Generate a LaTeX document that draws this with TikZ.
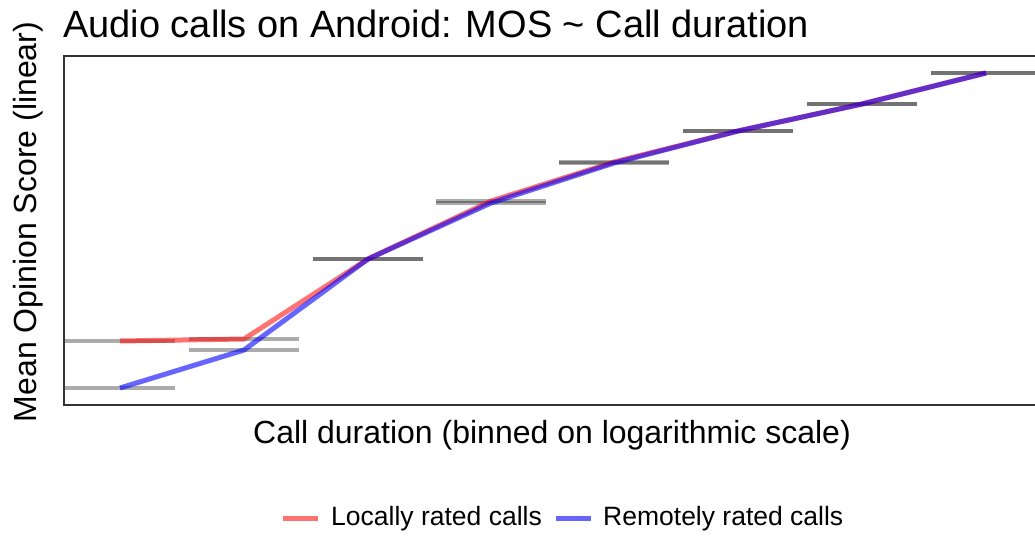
\documentclass[tikz,border=0pt]{standalone}
\usepackage{fontspec}
\setmainfont{Liberation Sans}
\begin{document}
\begin{tikzpicture}[x=1pt,y=-1pt,
  frame/.style={draw=black!80, line width=1.4pt},
  binbar/.style={draw=black, draw opacity=0.33, line width=4pt},
  localline/.style={draw=red, draw opacity=0.55, line width=5pt, line join=round},
  remoteline/.style={draw=blue, draw opacity=0.6, line width=5pt, line join=round},
  title/.style={font=\fontsize{38}{44}\selectfont, anchor=base west, inner sep=0pt},
  axislabel/.style={font=\fontsize{32}{38}\selectfont, inner sep=0pt},
  legendtext/.style={font=\fontsize{26.5}{31}\selectfont, anchor=west, inner sep=0pt}]
\useasboundingbox (0,0) rectangle (1035,536);
\begin{scope}
\clip (0,0) rectangle (1035,536);
% bin centres of the log-scaled call durations
\foreach \i/\x/\yl/\yr in {1/120/341/388, 2/244/339/350, 3/368/259/259, 4/491/201/203,
                           5/614/162/163, 6/738/131/131, 7/862/104/104, 8/986/73/73} {
  \coordinate (L\i) at (\x,\yl);
  \coordinate (R\i) at (\x,\yr);
  \draw[binbar] ([xshift=-55pt]L\i) -- ([xshift=55pt]L\i);
  \draw[binbar] ([xshift=-55pt]R\i) -- ([xshift=55pt]R\i);
}
% plot frame (open to the right)
\coordinate (tr) at (1045,56);
\coordinate (tl) at (64,56);
\coordinate (bl) at (64,405);
\coordinate (br) at (1045,405);
\draw[frame] (tr) -- (tl) -- (bl) -- (br);
% mean opinion score curves
\draw[localline] (L1) -- (L2) -- (L3) -- (L4) -- (L5) -- (L6) -- (L7) -- (L8);
\draw[remoteline] (R1) -- (R2) -- (R3) -- (R4) -- (R5) -- (R6) -- (R7) -- (R8);
\end{scope}
% titles and axis labels
\node[title] (ttl) at (63,37) {Audio calls on Android: MOS \textasciitilde{} Call duration};
\node[axislabel] (xl) at (552,435) {Call duration (binned on logarithmic scale)};
\node[axislabel, rotate=90] (yl) at (28,222) {Mean Opinion Score (linear)};
% legend
\coordinate (k1a) at (283,518);
\coordinate (k1b) at (318,518);
\coordinate (k2a) at (556,518);
\coordinate (k2b) at (591,518);
\draw[localline] (k1a) -- (k1b);
\node[legendtext] (t1) at (331,519) {Locally rated calls};
\draw[remoteline] (k2a) -- (k2b);
\node[legendtext] (t2) at (603,519) {Remotely rated calls};
\end{tikzpicture}
\end{document}
